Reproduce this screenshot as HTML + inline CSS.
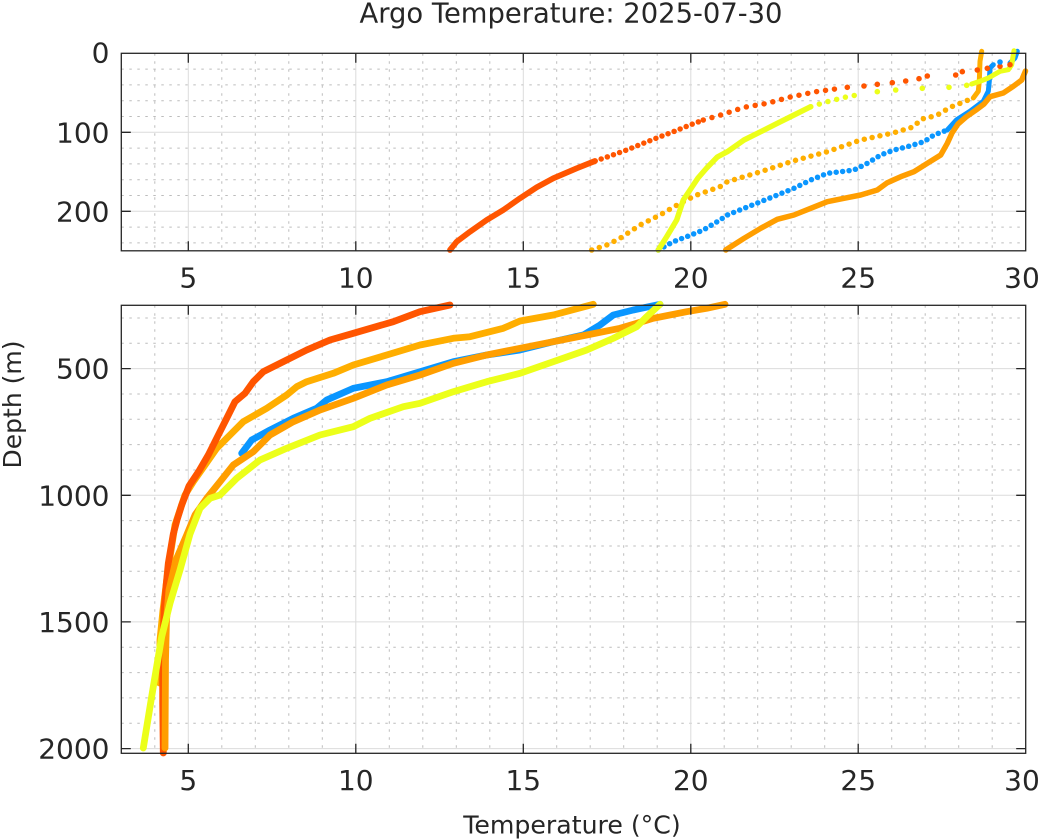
<!DOCTYPE html>
<html><head><meta charset="utf-8"><style>
html,body{margin:0;padding:0;background:#fff;}
svg{display:block;}
text{font-family:"DejaVu Sans","Liberation Sans",sans-serif;fill:#262626;}
</style></head><body>
<svg width="1044" height="840" viewBox="0 0 1044 840" xmlns="http://www.w3.org/2000/svg">
<rect x="0" y="0" width="1044" height="840" fill="#fff"/>
<rect x="121.3" y="53.3" width="904.4" height="197.5" fill="#fff"/>
<g stroke="#bcbcbc" stroke-width="1" stroke-dasharray="2.5 5.5" fill="none">
<path d="M154.8 53.3V250.8M221.8 53.3V250.8M255.3 53.3V250.8M288.8 53.3V250.8M322.3 53.3V250.8M389.3 53.3V250.8M422.8 53.3V250.8M456.3 53.3V250.8M489.8 53.3V250.8M556.7 53.3V250.8M590.2 53.3V250.8M623.7 53.3V250.8M657.2 53.3V250.8M724.2 53.3V250.8M757.7 53.3V250.8M791.2 53.3V250.8M824.7 53.3V250.8M891.7 53.3V250.8M925.2 53.3V250.8M958.7 53.3V250.8M992.2 53.3V250.8"/>
<path d="M121.3 69.1H1025.7M121.3 84.9H1025.7M121.3 100.7H1025.7M121.3 116.5H1025.7M121.3 148.1H1025.7M121.3 163.9H1025.7M121.3 179.7H1025.7M121.3 195.5H1025.7M121.3 227.1H1025.7M121.3 242.9H1025.7"/>
<path d="M154.8 305.3V753.3M221.8 305.3V753.3M255.3 305.3V753.3M288.8 305.3V753.3M322.3 305.3V753.3M389.3 305.3V753.3M422.8 305.3V753.3M456.3 305.3V753.3M489.8 305.3V753.3M556.7 305.3V753.3M590.2 305.3V753.3M623.7 305.3V753.3M657.2 305.3V753.3M724.2 305.3V753.3M757.7 305.3V753.3M791.2 305.3V753.3M824.7 305.3V753.3M891.7 305.3V753.3M925.2 305.3V753.3M958.7 305.3V753.3M992.2 305.3V753.3"/>
<path d="M121.3 318H1025.7M121.3 343.3H1025.7M121.3 394H1025.7M121.3 419.3H1025.7M121.3 444.6H1025.7M121.3 470H1025.7M121.3 520.6H1025.7M121.3 546H1025.7M121.3 571.3H1025.7M121.3 596.6H1025.7M121.3 647.3H1025.7M121.3 672.6H1025.7M121.3 697.9H1025.7M121.3 723.3H1025.7"/>
</g>
<g stroke="#dcdcdc" stroke-width="1" fill="none">
<path d="M188.3 53.3V250.8M355.8 53.3V250.8M523.3 53.3V250.8M690.8 53.3V250.8M858.2 53.3V250.8M121.3 132.3H1025.7M121.3 211.3H1025.7"/>
<path d="M188.3 305.3V753.3M355.8 305.3V753.3M523.3 305.3V753.3M690.8 305.3V753.3M858.2 305.3V753.3M121.3 368.6H1025.7M121.3 495.3H1025.7M121.3 621.9H1025.7M121.3 748.6H1025.7"/>
</g>

<!-- TOP DATA -->
<g fill="none" stroke-linecap="round" stroke-linejoin="round">
<path stroke="#ffae00" stroke-width="5.5" stroke-dasharray="0 8" d="M591.7,250 L606.7,245 L620,238.3 L640,225 L660,215 L680,203.3 L696.7,195 L720,186.7 L727.3,181.7 L760.7,171.7 L794,160.7 L827.3,151.7 L860.7,140 L894,132.7 L914,126.7 L920.7,119.3 L933.3,116.3 L941.7,113 L948.3,108 L956.7,104.7 L965,101.3 L973.3,98"/>
<path stroke="#ffae00" stroke-width="5" d="M973.3,98 L978.3,91.3 L979.3,81.3 L980,61.3 L981.7,51.3"/>
<path stroke="#ff5500" stroke-width="5.8" d="M450,250 L456.7,241.7 L470,231.7 L486.7,220 L503.3,210 L520,198.3 L536.7,187.3 L553.3,178.3 L576.7,168.3 L595,161"/>
<path stroke="#ff5500" stroke-width="5.5" stroke-dasharray="0 6.5" d="M595,161 L603.3,158.3 L626.7,150 L653.3,139.3 L673.3,131.7 L690,125 L703.3,120"/>
<path stroke="#ff5500" stroke-width="5.5" stroke-dasharray="0 9" d="M703.3,120 L720.7,115 L744,107.3 L767.3,103.3 L789,97.3 L815.7,91.7 L840,88.3"/>
<path stroke="#0a96ff" stroke-width="5.5" stroke-dasharray="0 6.5" d="M658.3,250 L673.3,241.7 L686.7,236.7 L703.3,230 L720,220 L727.3,215 L744,208.3 L760.7,201.7 L777.3,195 L794,188.3 L810.7,180 L827.3,173.3 L840.7,171.7 L854,170 L867.3,163.3 L880.7,155 L894,150 L907.3,146.7 L924,141.7 L934,135 L947.3,130"/>
<path stroke="#0a96ff" stroke-width="5" d="M947.3,130 L956.7,119.7 L970,111.3 L983.3,101.3 L988.3,91.3 L989.3,81.3 L990,68 L993.3,64.7"/>
<path stroke="#0a96ff" stroke-width="5" d="M1010,63 L1015,58 L1017.3,51.3"/>
<path stroke="#ff9e00" stroke-width="5.5" d="M725.7,250 L744,238.3 L760.7,228.3 L777.3,219.3 L794,215 L810.7,208.3 L827.3,201.7 L844,198.3 L860.7,195 L877.3,190 L887.3,182.7 L900.7,176.7 L914,171.7 L927.3,163.3 L940.7,155 L947.3,143.3 L952,133 L958,124 L966,117 L976,110 L984,104 L990,96.7 L1003.3,93 L1013.3,86.3 L1021.7,80 L1025.5,71"/>
<path stroke="#ecff1a" stroke-width="5.5" d="M658.3,250 L666.7,236.7 L676.7,220 L683.3,200 L690,190 L698,178 L706.7,168 L717.3,157 L727.3,151.7 L744,140 L760.7,131.7 L777.3,123.3 L794,115 L810.7,106.7"/>
<path stroke="#ecff1a" stroke-width="5.5" stroke-dasharray="0 9" d="M810.7,106.7 L827.3,101.7 L847.3,96.7 L860.7,94.3"/>
<path stroke="#ecff1a" stroke-width="5" d="M971.7,84 L980,81.3 L988.3,78 L1000,71.3 L1008.3,69.7 L1011.7,64.7 L1013.3,54.7 L1014,50.7"/>
</g>
<g fill="#ff5500">
<circle cx="847.3" cy="87.3" r="2.8"/><circle cx="864" cy="86" r="2.8"/><circle cx="877.3" cy="84.3" r="2.8"/><circle cx="892.3" cy="82.7" r="2.8"/><circle cx="905.7" cy="81" r="2.8"/><circle cx="919" cy="78.7" r="2.8"/><circle cx="927.3" cy="76" r="2.8"/><circle cx="955.7" cy="75" r="2.8"/><circle cx="962.3" cy="71.7" r="2.8"/><circle cx="977.3" cy="70" r="2.8"/><circle cx="987.3" cy="68.3" r="2.8"/><circle cx="1000" cy="66.3" r="2.8"/><circle cx="1010" cy="64.7" r="2.8"/>
</g>
<g fill="#0a96ff"><circle cx="1000" cy="62" r="2.8"/></g>
<g fill="#ecff1a">
<circle cx="877.3" cy="91.7" r="2.8"/><circle cx="895.7" cy="90" r="2.8"/><circle cx="922.3" cy="88.3" r="2.8"/><circle cx="949" cy="87.3" r="2.8"/><circle cx="966.7" cy="85.3" r="2.8"/>
</g>

<!-- BOTTOM DATA -->
<g fill="none" stroke-linecap="round" stroke-linejoin="round" stroke-width="6.8">
<path stroke="#ffae00" d="M593.3,304.3 L553.3,315 L520,321 L503.3,328.3 L470,336.7 L453.3,338.3 L420,345 L386.7,355 L353.3,365 L333.3,373.3 L306.7,381.7 L296.7,386.7 L286.7,395 L266.7,408.3 L243.3,421.7 L230,435 L216.7,448.3 L205,465 L193.3,481.7 L185,495 L175,525 L168,570 L163,610 L160,640 L159.5,683"/>
<path stroke="#ff5500" d="M450,305 L420,311.7 L393.3,321.7 L353.3,333.3 L330,340 L306.7,350 L283.3,361.7 L263.3,371.7 L253.3,381.7 L245,393.3 L235,401.7 L226.7,418.3 L218.3,435 L208.3,455 L199,471 L189,486 L181.7,505 L177,520 L173.3,534 L168.3,563.3 L166,586.7 L164,610 L163.3,636.7 L162.7,670 L162.7,703.3 L163.3,753"/>
<path stroke="#0a96ff" d="M660,304.3 L633.3,310 L613.3,315 L600,325 L583.3,335 L553.3,341.7 L520,350 L486.7,355 L453.3,361.7 L420,371.7 L386.7,381.7 L353.3,388.3 L326.7,400 L316.7,408.3 L293.3,418.3 L270,430 L251.7,440 L241.7,453.3"/>
<path stroke="#ff9e00" d="M725,304.3 L706.7,308.3 L686.7,311.7 L653.3,318.3 L620,328.3 L586.7,335 L553.3,341.7 L520,348.3 L486.7,355 L453.3,363.3 L420,375 L386.7,385 L353.3,398.3 L320,410 L293.3,421.7 L270,435 L253.3,451.7 L233.3,465 L220,481.7 L206.7,498.3 L195,515 L186.7,535 L176,560 L169,590 L166.5,620 L165.5,660 L165,748"/>
<path stroke="#ecff1a" d="M660,304.3 L646.7,316.7 L636.7,326.7 L613.3,338.3 L586.7,350 L553.3,361.7 L520,373.3 L486.7,381.7 L453.3,391.7 L420,403.3 L403.3,406.7 L370,418.3 L353.3,426.7 L320,435 L286.7,448.3 L260,460 L236.7,478.3 L220,495 L210,498.3 L200,508.3 L190,534 L180,570 L170,603.3 L161.7,636.7 L153.3,686.7 L143.3,748"/>
</g>

<g stroke="#262626" stroke-width="1.3" fill="none">
<rect x="121.3" y="53.3" width="904.4" height="197.5"/>
<rect x="121.3" y="305.3" width="904.4" height="448"/>
<path d="M188.3 53.3v9.5M355.8 53.3v9.5M523.3 53.3v9.5M690.8 53.3v9.5M858.2 53.3v9.5M188.3 250.8v-9.5M355.8 250.8v-9.5M523.3 250.8v-9.5M690.8 250.8v-9.5M858.2 250.8v-9.5M121.3 132.3h9.5M121.3 211.3h9.5M1025.7 132.3h-9.5M1025.7 211.3h-9.5"/>
<path d="M188.3 305.3v9.5M355.8 305.3v9.5M523.3 305.3v9.5M690.8 305.3v9.5M858.2 305.3v9.5M188.3 753.3v-9.5M355.8 753.3v-9.5M523.3 753.3v-9.5M690.8 753.3v-9.5M858.2 753.3v-9.5M121.3 368.6h9.5M121.3 495.3h9.5M121.3 621.9h9.5M121.3 748.6h9.5M1025.7 368.6h-9.5M1025.7 495.3h-9.5M1025.7 621.9h-9.5M1025.7 748.6h-9.5"/>
</g>

<text x="571" y="22.7" font-size="27.4" text-anchor="middle">Argo Temperature: 2025-07-30</text>
<g font-size="28" text-anchor="middle">
<text x="188.3" y="287.7">5</text><text x="355.8" y="287.7">10</text><text x="523.3" y="287.7">15</text><text x="690.8" y="287.7">20</text><text x="858.2" y="287.7">25</text><text x="1022" y="287.7">30</text>
<text x="188.3" y="790">5</text><text x="355.8" y="790">10</text><text x="523.3" y="790">15</text><text x="690.8" y="790">20</text><text x="858.2" y="790">25</text><text x="1022" y="790">30</text>
</g>
<g font-size="28" text-anchor="end">
<text x="109.5" y="62.5">0</text><text x="109.5" y="142.5">100</text><text x="109.5" y="221.5">200</text>
<text x="109.5" y="378.6">500</text><text x="109.5" y="505.3">1000</text><text x="109.5" y="632">1500</text><text x="109.5" y="758.5">2000</text>
</g>
<text x="572" y="833.5" font-size="25.2" text-anchor="middle">Temperature (°C)</text>
<text transform="translate(21,404.5) rotate(-90)" x="0" y="0" font-size="25" text-anchor="middle">Depth (m)</text>
</svg>
</body></html>
